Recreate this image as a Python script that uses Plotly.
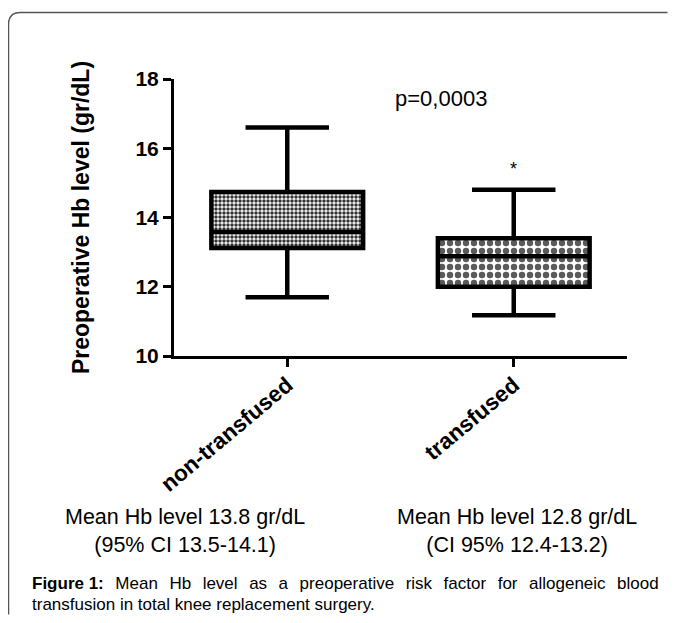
import plotly.graph_objects as go

# ---- data ----
groups = ["non-transfused", "transfused"]
q1 = [13.12, 12.00]
median = [13.58, 12.88]
q3 = [14.74, 13.40]
lower = [11.70, 11.18]
upper = [16.60, 14.80]
y_ticks = [10, 12, 14, 16, 18]
p_text = "p=0,0003"
star_y = 15.4
mean_notes = ["Mean Hb level 13.8 gr/dL<br>(95% CI 13.5-14.1)",
              "Mean Hb level 12.8 gr/dL<br>(CI 95% 12.4-13.2)"]
caption_l1 = "<b>Figure 1:</b> Mean Hb level as a preoperative risk factor for allogeneic blood"
caption_l2 = "transfusion in total knee replacement surgery."

# ---- geometry (page pixels; the page body adds an 8px margin) ----
OX, OY = 8, 8
PAGE_W, PAGE_H = 676, 623
FW, FH = PAGE_W - 2 * OX, PAGE_H - 2 * OY
L, R, T, B = 174, 627, 79, 356
PW, PH = R - L, B - T
def px(x):
    return (x - L) / PW
def py(y):
    return (B - y) / PH

FONT = "Liberation Sans, Arial, sans-serif"
box_w = 0.67

fig = go.Figure()

# patterned fill of boxes (under the box outlines)
pat_sizes = [4, 8]
pat_solid = [0.6, 0.5]
pat_fg = ["#333333", "#5a5a5a"]
for i, g in enumerate(groups):
    fig.add_trace(go.Bar(
        x=[g], y=[q3[i] - q1[i]], base=[q1[i]], width=box_w,
        marker=dict(color="white", line=dict(width=0),
                    pattern=dict(shape=".", fgcolor=pat_fg[i], bgcolor="white", fgopacity=1,
                                 size=pat_sizes[i], solidity=pat_solid[i], fillmode="overlay")),
        showlegend=False, hoverinfo="skip"))

fig.add_trace(go.Box(
    x=groups, q1=q1, median=median, q3=q3, lowerfence=lower, upperfence=upper,
    width=box_w, whiskerwidth=0.55, fillcolor="rgba(0,0,0,0)",
    line=dict(color="black", width=4.5), marker=dict(opacity=0),
    boxpoints=False, showlegend=False))

# justified first caption line: widen each gap with thin spaces
head, rest = caption_l1.split("</b> ", 1)
cap1 = head + "</b>\u2009\u2009 " + rest.replace(" ", "\u2009\u2009 ")

annotations = [
    dict(x=px(441), y=py(98), xref="paper", yref="paper", text=p_text, showarrow=False,
         font=dict(family=FONT, size=22, color="black"), xanchor="center", yanchor="middle"),
    dict(x=groups[1], y=star_y, xref="x", yref="y", text="*", showarrow=False,
         font=dict(family=FONT, size=18, color="black"), xanchor="center", yanchor="middle"),
    dict(x=px(185), y=py(531), xref="paper", yref="paper", text=mean_notes[0], showarrow=False,
         font=dict(family=FONT, size=21.5, color="black"), xanchor="center", yanchor="middle", align="center"),
    dict(x=px(517), y=py(531), xref="paper", yref="paper", text=mean_notes[1], showarrow=False,
         font=dict(family=FONT, size=21.5, color="black"), xanchor="center", yanchor="middle", align="center"),
    dict(x=px(30), y=py(583), xref="paper", yref="paper", text=cap1, showarrow=False,
         font=dict(family=FONT, size=17, color="black"), xanchor="left", yanchor="middle", align="left"),
    dict(x=px(30), y=py(604), xref="paper", yref="paper", text=caption_l2, showarrow=False,
         font=dict(family=FONT, size=17, color="black"), xanchor="left", yanchor="middle", align="left"),
]

# rounded frame (top-left corner visible), kept inside the figure
fx0, fy0, r = 8.5, 12.5, 12
fx1, fy1 = OX + FW - 0.5, OY + FH - 0.5
frame = (f"M {px(fx0)},{py(fy1)} L {px(fx0)},{py(fy0 + r)} "
         f"Q {px(fx0)},{py(fy0)} {px(fx0 + r)},{py(fy0)} L {px(fx1)},{py(fy0)}")

fig.update_layout(
    width=FW, height=FH,
    margin=dict(l=L - OX, r=(OX + FW) - R, t=T - OY, b=(OY + FH) - B, autoexpand=False),
    paper_bgcolor="white", plot_bgcolor="white",
    barmode="overlay",
    font=dict(family=FONT, color="black"),
    annotations=annotations,
    shapes=[dict(type="path", path=frame, xref="paper", yref="paper",
                 line=dict(color="#555555", width=1.5))],
    xaxis=dict(range=[-0.5, 1.5], showgrid=False, zeroline=False,
               showline=True, linecolor="black", linewidth=3,
               ticks="outside", ticklen=8, tickwidth=3, tickcolor="black",
               tickangle=-40, ticklabelstandoff=-4,
               tickfont=dict(family=FONT, size=22.5, weight="bold")),
    yaxis=dict(range=[10, 18], tickvals=y_ticks, showgrid=False, zeroline=False,
               showline=True, linecolor="black", linewidth=3,
               ticks="outside", ticklen=8, tickwidth=3, tickcolor="black",
               tickfont=dict(family=FONT, size=21, weight="bold"),
               title=dict(text="Preoperative Hb level (gr/dL)", standoff=40,
                          font=dict(family=FONT, size=23, weight="bold"))),
)

fig.write_html("out.html")
